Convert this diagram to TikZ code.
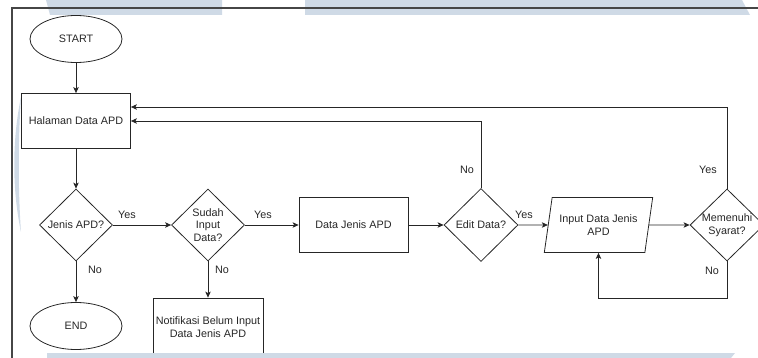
\documentclass[tikz,border=0pt]{standalone}
\usepackage{fontspec}
\setmainfont{Liberation Sans}
\usetikzlibrary{shapes.geometric,arrows.meta}
\definecolor{wmblue}{RGB}{207,218,230}
\definecolor{lineclr}{RGB}{38,38,38}
\definecolor{frameclr}{RGB}{70,70,70}

\begin{document}
\begin{tikzpicture}[x=1pt, y=-1pt,
    font=\fontsize{10.8}{12.5}\selectfont,
    every node/.style={text=lineclr},
    terminal/.style={draw=lineclr, ellipse, line width=0.8pt, minimum width=92pt, minimum height=47pt, inner sep=0pt},
    process/.style={draw=lineclr, rectangle, line width=0.8pt, minimum width=109pt, minimum height=55pt, inner sep=1pt, align=center},
    decision/.style={draw=lineclr, diamond, line width=0.8pt, minimum width=73pt, minimum height=72pt, inner sep=0pt},
    iobox/.style={draw=lineclr, trapezium, trapezium left angle=72, trapezium right angle=108, trapezium stretches, line width=0.8pt, minimum width=109pt, minimum height=55pt, inner sep=0pt, align=center},
    flow/.style={draw=lineclr, line width=0.8pt, -{Stealth[length=6pt, width=5.5pt, inset=1.5pt]}},
    answer/.style={inner sep=0pt}]
    \useasboundingbox (0,0) rectangle (758,358);

    % Background watermark
    \fill[wmblue] (46,0) -- (222,0) -- (222,15) -- (50,15) -- cycle;
    \fill[wmblue] (305,0) -- (742,0) -- (750,15) -- (305,15) -- cycle;
    \fill[wmblue] (21,97) .. controls (12,140) and (12,190) .. (21,232) .. controls (18,190) and (18,140) .. (21,97);

    % Frame
    \draw[frameclr, line width=1.2pt] (12,358) -- (12,8) -- (758,8);

    % Left column
    \node[terminal] (start) at (76,39) {START};
    \node[process] (halaman) at (76,121) {Halaman Data APD};
    \node[decision, label=center:{Jenis APD?}] (jenis) at (76,225) {};
    \node[terminal] (end) at (76,326) {END};

    % Check for input
    \node[decision, label={[align=center]center:Sudah\\Input\\Data?}] (sudah) at (208,225) {};
    \node[process, minimum width=110pt, minimum height=58pt] (notif) at (208,327) {Notifikasi Belum Input\\Data Jenis APD};

    % Data and editing
    \node[process] (datajenis) at (353.5,225) {Data Jenis APD};
    \node[decision, minimum width=74pt, minimum height=73pt, label=center:{Edit Data?}] (edit) at (481,225) {};
    \node[iobox] (input) at (598.5,225) {Input Data Jenis\\APD};
    \node[decision, minimum width=74pt, label={[align=center]center:Memenuhi\\Syarat?}] (syarat) at (727,225) {};

    % Connectors
    \draw[flow] (start) -- (halaman);
    \draw[flow] (halaman) -- (jenis);
    \draw[flow] (jenis) -- (sudah);
    \draw[flow] (jenis) -- (end);
    \draw[flow] (sudah) -- (datajenis);
    \draw[flow] (sudah) -- (notif);
    \draw[flow] (datajenis) -- (edit);
    \draw[flow] (edit) -- (input);
    \draw[flow] (input) -- (syarat);
    \draw[flow] (edit.north) |- (halaman.east);
    \draw[flow] (syarat.north) |- ([yshift=14pt]halaman.east);
    \draw[flow] (syarat.south) -- ++(0,37) -| (input.center |- input.south);

    % Yes / No labels
    \node[answer] (jenisyes) at (127,215) {Yes};
    \node[answer] (jenisno) at (95,270) {No};
    \node[answer] (sudahyes) at (263,215) {Yes};
    \node[answer] (sudahno) at (222,270) {No};
    \node[answer] (editno) at (467,170) {No};
    \node[answer] (edityes) at (524,215) {Yes};
    \node[answer] (syaratyes) at (708,170) {Yes};
    \node[answer] (syaratno) at (712,271) {No};

    % Bottom watermark band
    \fill[wmblue] (47,353) -- (735,353) -- (731,358) -- (47,358) -- cycle;
\end{tikzpicture}
\end{document}
